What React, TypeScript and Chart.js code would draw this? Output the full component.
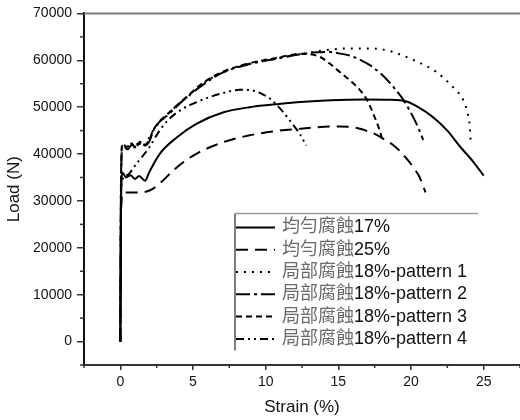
import React, { useEffect, useRef } from "react";
import { Chart, registerables } from "chart.js";

Chart.register(...registerables);

// ---- data ----
const seriesLabels = [
  "均勻腐蝕17%",
  "均勻腐蝕25%",
  "局部腐蝕18%-pattern 1",
  "局部腐蝕18%-pattern 2",
  "局部腐蝕18%-pattern 3",
  "局部腐蝕18%-pattern 4",
];

const strainU17 = [0, 0.05, 0.15, 0.4, 0.7, 1.0, 1.3, 1.7, 2.0, 2.7, 3.9, 5.2, 7.1, 8.9, 10.7, 12.4, 14.5, 16.9, 18.5, 19.7, 20.5, 21.5, 22.5, 23.4, 24.3, 25.0];
const loadU17 = [0, 30000, 36000, 35000, 35500, 34700, 35300, 34300, 36200, 40000, 43600, 46400, 48900, 50000, 50600, 51100, 51500, 51650, 51600, 51200, 50000, 47900, 45000, 41500, 38300, 35400];

const strainU25 = [0, 0.05, 0.2, 1.0, 1.8, 2.2, 2.7, 3.9, 5.2, 7.05, 8.9, 10.7, 12.4, 14.0, 15.1, 16.2, 16.9, 17.5, 18.1, 18.7, 19.2, 19.7, 20.15, 20.6, 21.0];
const loadU25 = [0, 28000, 31800, 31800, 32000, 32500, 33700, 37200, 40000, 42500, 44000, 44900, 45400, 45800, 45900, 45600, 45000, 44300, 43250, 42100, 40750, 39000, 37200, 35000, 31800];

const strainP1 = [0, 0.05, 0.15, 0.4, 0.7, 1.0, 1.3, 1.6, 1.9, 2.25, 3.4, 4.55, 5.7, 7.07, 8.9, 10.74, 12.6, 14.0, 15.5, 17.0, 18.1, 19.2, 20.2, 21.7, 23.0, 23.6, 23.9, 24.05, 24.1];
const loadP1 = [0, 35000, 42000, 41300, 42200, 41600, 42500, 42000, 43000, 45000, 48900, 52100, 55000, 57500, 59300, 60400, 61400, 62100, 62500, 62500, 62270, 61300, 60000, 57600, 53900, 51500, 48600, 45700, 42900];

const strainP2 = [0, 0.05, 0.15, 0.5, 0.8, 1.1, 1.4, 1.7, 2.0, 2.3, 3.4, 4.5, 5.7, 7.0, 8.9, 10.7, 12.6, 13.5, 14.3, 15.0, 15.8, 16.5, 17.2, 17.9, 18.5, 19.0, 19.5, 20.15, 20.5, 20.84];
const loadP2 = [0, 34000, 41800, 41000, 42000, 41400, 42300, 41800, 42700, 45200, 48700, 51900, 54800, 57300, 59200, 60300, 61400, 61700, 61800, 61500, 61000, 60100, 58900, 57200, 55350, 53500, 51440, 47870, 45600, 43000];

const strainP3 = [0, 0.05, 0.15, 0.45, 0.75, 1.05, 1.35, 1.65, 1.95, 2.3, 3.4, 4.6, 5.7, 7.1, 8.9, 10.7, 11.5, 12.35, 13.0, 13.75, 14.4, 15.1, 15.8, 16.5, 17.0, 17.4, 17.85, 18.05];
const loadP3 = [0, 36000, 42200, 41500, 42400, 41200, 42600, 41900, 42800, 45300, 49000, 52300, 55200, 57600, 59400, 60500, 61000, 61400, 61300, 60700, 59300, 57500, 55700, 53600, 51400, 48600, 45000, 42800];

const strainP4 = [0, 0.05, 0.4, 1.1, 2.0, 2.7, 3.4, 4.3, 5.2, 6.15, 7.2, 8.2, 9.0, 9.7, 10.3, 11.0, 11.66, 12.3, 12.8];
const loadP4 = [0, 33000, 35400, 37900, 41460, 45000, 47600, 49660, 51000, 52150, 53100, 53700, 53600, 52900, 51800, 49700, 47160, 44500, 41800];

const xTickValues = [0, 5, 10, 15, 20, 25];
const yTickValues = [0, 10000, 20000, 30000, 40000, 50000, 60000, 70000];
const xMinorValues = [-2.5, 2.5, 7.5, 12.5, 17.5, 22.5, 27.5];
const yMinorValues = [-5000, 5000, 15000, 25000, 35000, 45000, 55000, 65000];

const seriesStrain = [strainU17, strainU25, strainP1, strainP2, strainP3, strainP4];
const seriesLoad = [loadU17, loadU25, loadP1, loadP2, loadP3, loadP4];
const seriesDash: number[][] = [[], [12, 7], [2, 6], [14, 4, 3, 4], [6, 4], [8, 4, 2, 4, 2, 4]];

const FONT = "'Liberation Sans', Arial, 'Noto Sans CJK TC', sans-serif";

const decorPlugin = {
  id: "decor",
  afterDraw(chart: any) {
    const ctx = chart.ctx;
    const area = chart.chartArea;
    const xs = chart.scales.x;
    const ys = chart.scales.y;
    ctx.save();
    // top border
    ctx.strokeStyle = "#7a7a7a";
    ctx.lineWidth = 2;
    ctx.beginPath();
    ctx.moveTo(area.left, area.top);
    ctx.lineTo(area.right, area.top);
    ctx.stroke();
    // minor ticks
    ctx.strokeStyle = "#333";
    ctx.lineWidth = 1.5;
    xMinorValues.forEach((v) => {
      const px = xs.getPixelForValue(v);
      ctx.beginPath();
      ctx.moveTo(px, area.bottom);
      ctx.lineTo(px, area.bottom + 3);
      ctx.stroke();
    });
    yMinorValues.forEach((v) => {
      const py = ys.getPixelForValue(v);
      ctx.beginPath();
      ctx.moveTo(area.left, py);
      ctx.lineTo(area.left - 4, py);
      ctx.stroke();
    });

    // legend
    const lx = area.left + 151;
    const ly = area.top + 200;
    const rowH = 22.3;
    ctx.lineWidth = 1.5;
    ctx.strokeStyle = "#9a9a9a";
    ctx.beginPath();
    ctx.moveTo(lx, ly);
    ctx.lineTo(lx + 243, ly);
    ctx.stroke();
    ctx.strokeStyle = "#555";
    ctx.beginPath();
    ctx.moveTo(lx, ly);
    ctx.lineTo(lx, ly + 137);
    ctx.stroke();

    ctx.textBaseline = "middle";
    ctx.font = `18px ${FONT}`;
    seriesLabels.forEach((label, i) => {
      const cy = ly + 14 + i * rowH;
      ctx.strokeStyle = "#000";
      ctx.lineWidth = 2;
      ctx.setLineDash(seriesDash[i]);
      ctx.beginPath();
      ctx.moveTo(lx + 1, cy);
      ctx.lineTo(lx + 40, cy);
      ctx.stroke();
      ctx.setLineDash([]);
      const pre = label.slice(0, 4);
      const post = label.slice(4);
      ctx.fillStyle = "#6a6a6a";
      ctx.fillText(pre, lx + 47, cy);
      const w = ctx.measureText(pre).width;
      ctx.fillStyle = "#111";
      ctx.fillText(post, lx + 47 + w, cy);
    });
    ctx.restore();
  },
};

export default function App() {
  const ref = useRef<HTMLCanvasElement | null>(null);
  useEffect(() => {
    if (!ref.current) return;
    const datasets = seriesLabels.map((label, i) => ({
      label,
      data: seriesStrain[i].map((x, j) => ({ x, y: seriesLoad[i][j] })),
      borderColor: "#000",
      borderWidth: 2,
      borderDash: seriesDash[i],
      pointRadius: 0,
      fill: false,
      cubicInterpolationMode: "monotone" as const,
    }));
    const chart = new Chart(ref.current, {
      type: "line",
      data: { datasets },
      plugins: [decorPlugin],
      options: {
        responsive: false,
        animation: false,
        layout: { padding: { top: 13, right: 0, left: 0, bottom: 0 } },
        plugins: { legend: { display: false }, tooltip: { enabled: false } },
        scales: {
          x: {
            type: "linear",
            min: -2.5,
            max: 27.5,
            afterBuildTicks: (s: any) => {
              s.ticks = xTickValues.map((value) => ({ value }));
            },
            afterFit: (s: any) => {
              s.height = 55;
            },
            grid: { drawOnChartArea: false, drawTicks: true, tickLength: 5, color: "#333", lineWidth: 1.5 },
            border: { display: true, color: "#333", width: 2 },
            ticks: { font: { size: 14, family: FONT }, color: "#111", padding: 4, maxRotation: 0, callback: (v: any) => String(v) },
            title: { display: true, text: "Strain (%)", font: { size: 17, family: FONT }, color: "#111", padding: 2 },
          },
          y: {
            type: "linear",
            min: -5000,
            max: 70000,
            afterBuildTicks: (s: any) => {
              s.ticks = yTickValues.map((value) => ({ value }));
            },
            afterFit: (s: any) => {
              s.width = 84;
            },
            grid: { drawOnChartArea: false, drawTicks: true, tickLength: 7, color: "#333", lineWidth: 1.5 },
            border: { display: true, color: "#111", width: 2 },
            ticks: { font: { size: 14, family: FONT }, color: "#111", padding: 5, callback: (v: any) => String(v) },
            title: { display: true, text: "Load (N)", font: { size: 17, family: FONT }, color: "#111", padding: 4 },
          },
        },
      },
    });
    return () => chart.destroy();
  }, []);
  return (
    <div style={{ position: "fixed", left: 0, top: 0, width: 520, height: 420, background: "#fff" }}>
      <canvas ref={ref} width={520} height={420} />
    </div>
  );
}
